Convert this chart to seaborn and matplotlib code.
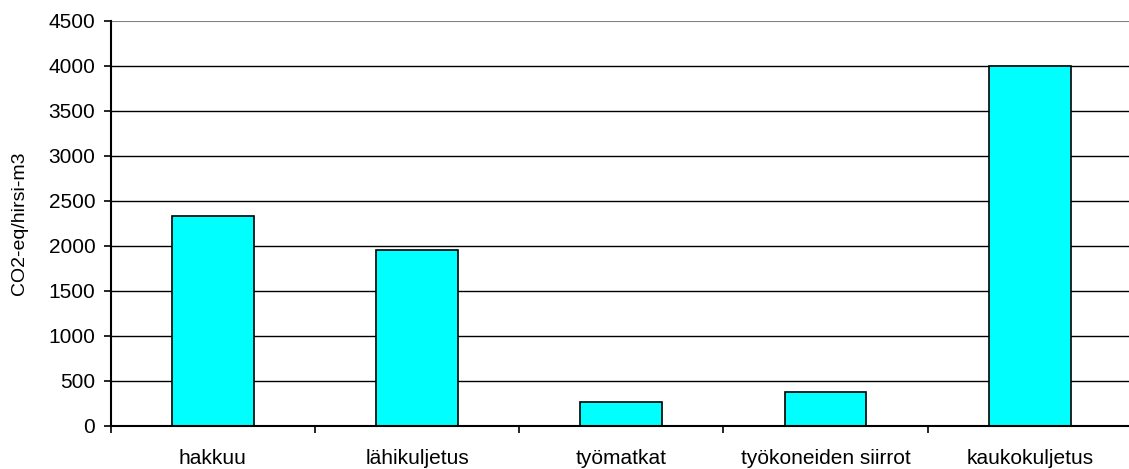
import matplotlib
matplotlib.use("Agg")
import matplotlib.pyplot as plt
import seaborn as sns
import pandas as pd
import numpy as np

categories = ["hakkuu", "lähikuljetus", "työmatkat", "työkoneiden siirrot", "kaukokuljetus"]
values = [2330, 1950, 265, 370, 4000]
y_ticks = [0, 500, 1000, 1500, 2000, 2500, 3000, 3500, 4000, 4500]
y_label = "CO2-eq/hirsi-m3"

sns.set_theme(style="white")
plt.rcParams["font.family"] = ["Liberation Sans", "DejaVu Sans"]

df = pd.DataFrame({"vaihe": categories, "paasto": values})

fig = plt.figure(figsize=(11.29, 4.69), dpi=100)
ax = fig.add_axes([0.098, 0.0925, 0.9047, 0.8635])

# horizontal gridlines behind the bars
for t in y_ticks[1:-1]:
    ax.axhline(t, color="black", linewidth=1.0, zorder=0)
ax.axhline(y_ticks[-1], color="#808080", linewidth=1.5, zorder=0)

sns.barplot(data=df, x="vaihe", y="paasto", color="#00FFFF", width=0.4,
            edgecolor="black", linewidth=1.2, saturation=1, ax=ax, zorder=2)

fs = 15
ax.set_xlim(-0.5, len(categories) - 0.5)
ax.set_ylim(0, 4500)
ax.set_yticks(y_ticks)
ax.set_yticklabels([str(t) for t in y_ticks], fontsize=fs)
ax.set_xticks(range(len(categories)))
ax.set_xticklabels(categories, fontsize=fs)
ax.set_xticks(np.arange(-0.5, len(categories), 1.0), minor=True)
ax.tick_params(axis="x", which="major", length=0, pad=17, colors="black")
ax.tick_params(axis="x", which="minor", length=5, width=1.2, direction="out", bottom=True, color="black")
ax.tick_params(axis="y", length=5, width=1.2, direction="out", left=True, pad=6, colors="black")

ax.set_xlabel("")
ax.set_ylabel(y_label, fontsize=14, color="black")
ax.yaxis.set_label_coords(-0.081, 0.5)

for side in ["top", "right"]:
    ax.spines[side].set_visible(False)
for side in ["left", "bottom"]:
    ax.spines[side].set_color("black")
    ax.spines[side].set_linewidth(1.5)
    ax.spines[side].set_zorder(3)

fig.savefig("out.png", dpi=100)
